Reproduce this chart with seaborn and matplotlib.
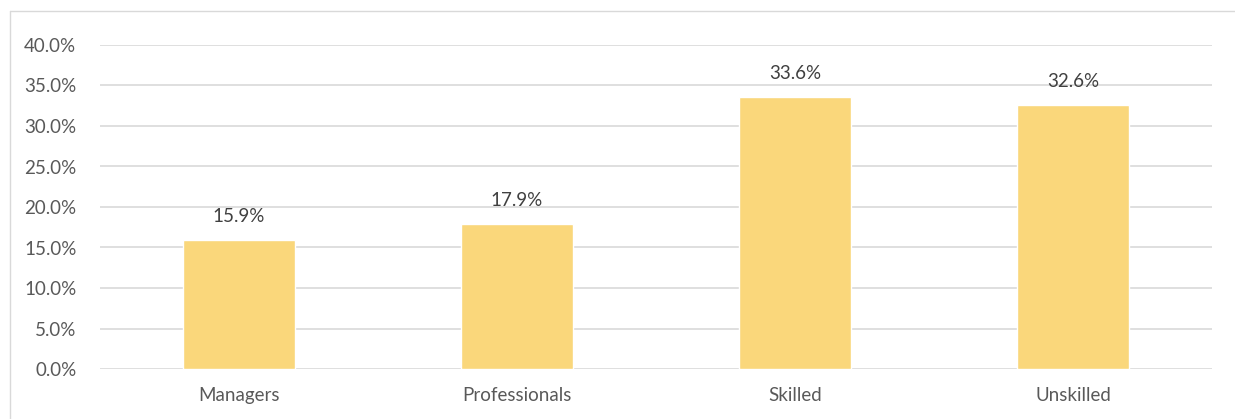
import matplotlib
matplotlib.use("Agg")
import matplotlib.pyplot as plt
import seaborn as sns
import pandas as pd
from matplotlib.ticker import PercentFormatter
from matplotlib.lines import Line2D

categories = ["Managers", "Professionals", "Skilled", "Unskilled"]
shares = [15.9, 17.9, 33.6, 32.6]
y_ticks = [0, 5, 10, 15, 20, 25, 30, 35, 40]

df = pd.DataFrame({"category": categories, "share": shares})

sns.set_theme(style="white")
plt.rcParams["font.family"] = ["Lato", "DejaVu Sans"]

fig = plt.figure(figsize=(12.35, 4.19), dpi=100)
ax = fig.add_axes([100 / 1235, 50 / 419, 1112 / 1235, 324 / 419])

sns.barplot(data=df, x="category", y="share", color="#FAD77B", saturation=1,
            width=0.40, ax=ax, zorder=3)

ax.set_xlim(-0.5, 3.5)
ax.set_ylim(0, 40)
ax.set_yticks(y_ticks)
ax.yaxis.set_major_formatter(PercentFormatter(decimals=1))
ax.grid(axis="y", color="#D9D9D9", linewidth=1.2, zorder=0)
ax.set_xlabel("")
ax.set_ylabel("")
for s in ax.spines.values():
    s.set_visible(False)
ax.tick_params(axis="both", length=0, labelsize=13.5, colors="#595959")
ax.tick_params(axis="y", pad=17)
ax.tick_params(axis="x", pad=13)

for i, v in enumerate(shares):
    ax.annotate(f"{v:.1f}%", (i, v), xytext=(0, 11), textcoords="offset points",
                ha="center", va="bottom", fontsize=13.5, color="#404040")

# chart frame (top and left edges)
fig.add_artist(Line2D([10 / 1235, 1.0], [1 - 11 / 419, 1 - 11 / 419],
                      transform=fig.transFigure, color="#D9D9D9", linewidth=1))
fig.add_artist(Line2D([10 / 1235, 10 / 1235], [0, 1 - 11 / 419],
                      transform=fig.transFigure, color="#D9D9D9", linewidth=1))

fig.savefig("out.png", dpi=100)
